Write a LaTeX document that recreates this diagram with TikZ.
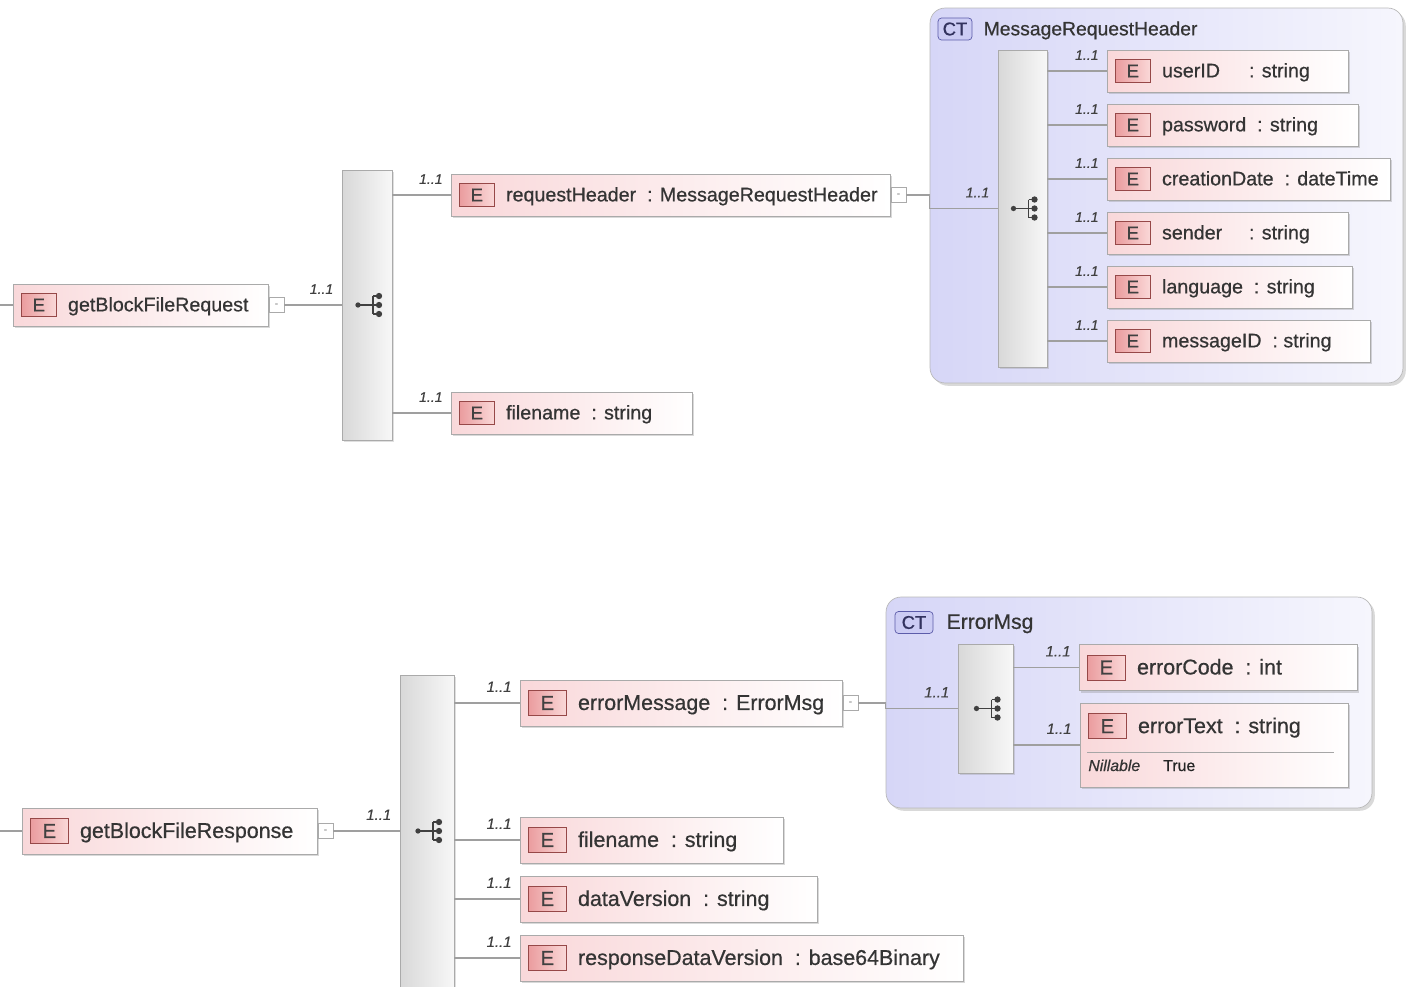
\documentclass[tikz,border=0pt]{standalone}
\usepackage{fontspec}
\setmainfont{Liberation Sans}[FakeBold=0.6]
\usetikzlibrary{calc, shadows}

\definecolor{elempink}{RGB}{249,216,218}
\definecolor{elemline}{RGB}{170,170,170}
\definecolor{tagred}{RGB}{234,156,158}
\definecolor{taglight}{RGB}{250,216,216}
\definecolor{tagline}{RGB}{150,72,72}
\definecolor{ctblue}{RGB}{214,214,247}
\definecolor{ctlight}{RGB}{246,246,253}
\definecolor{cttagfill}{RGB}{204,204,244}
\definecolor{cttagline}{RGB}{92,92,170}
\definecolor{seqgray}{RGB}{216,216,216}
\definecolor{textgray}{RGB}{52,52,52}

\begin{document}
\begin{tikzpicture}[
    x=0.02cm, y=-0.02cm,
    % Styles des boites d'elements
    elem/.style={anchor=west, draw=elemline, left color=elempink, right color=white,
        minimum height=0.84cm, inner sep=0,
        drop shadow={shadow xshift=1.2pt, shadow yshift=-1.2pt, opacity=0.3}},
    etag/.style={anchor=west, draw=tagline, left color=tagred, right color=taglight,
        minimum width=0.7cm, minimum height=0.46cm, inner sep=0,
        font=\fontsize{10.5}{12}\selectfont, text=black!75},
    elemtext/.style={anchor=base west, inner sep=0, font=\fontsize{11.2}{13}\selectfont, text=textgray},
    minusbox/.style={anchor=west, draw=elemline, fill=white, minimum size=0.3cm, inner sep=0,
        font=\tiny, text=gray},
    % Sequences and complex types
    seqbar/.style={draw=elemline, left color=seqgray, right color=gray!6, inner sep=0,
        drop shadow={shadow xshift=1.2pt, shadow yshift=-1.2pt, opacity=0.25}},
    ctbox/.style={draw=gray!55, left color=ctblue, right color=ctlight, rounded corners=0.3cm,
        inner sep=0, drop shadow={shadow xshift=1.6pt, shadow yshift=-1.6pt, opacity=0.3}},
    cttag/.style={draw=cttagline, fill=cttagfill, rounded corners=2pt, minimum width=0.68cm,
        minimum height=0.44cm, inner sep=0, font=\fontsize{10.5}{12}\selectfont, text=cttagline!55!black},
    cttext/.style={anchor=base west, inner sep=0, font=\fontsize{11}{13}\selectfont, text=textgray},
    % Lines and labels
    conn/.style={draw=gray!75, line width=0.6pt},
    card/.style={anchor=south east, inner xsep=4.5pt, inner ysep=6pt,
        font=\fontsize{8}{9}\selectfont\itshape, text=black!75},
    icon/.style={black!75, line width=0.8pt}
]

    \useasboundingbox (0,0) rectangle (1414,987);
    \clip (0,0) rectangle (1414,987);

    %% Element box: name, left point, width (px), text
    \def\xsdelem#1#2#3#4{
        \node[elem, minimum width=#3*0.02cm] (#1) at (#2) {};
        \node[etag] (#1-tag) at ($(#1.west)+(8,0)$) {E};
        \node[elemtext] (#1-txt) at ($(#1-tag.base east)+(11,0)$) {#4};
    }

    %% Sequence icon at a point
    \def\seqicon#1{
        \begin{scope}[shift={(#1)}]
            \draw[icon] (-9,0) -- (6,0) (6,-9) -- (6,9) (6,-9) -- (12,-9) (6,0) -- (12,0) (6,9) -- (12,9);
            \fill[icon] (-9,0) circle (1.5pt) (12,-9) circle (1.8pt) (12,0) circle (1.8pt) (12,9) circle (1.8pt);
        \end{scope}
    }


    % Request

    %% Complex type MessageRequestHeader
    \node[ctbox, minimum width=9.46cm, minimum height=7.5cm] (mrh) at (1166.5,195.5) {};
    \node[cttag] (mrh-ct) at (955,29) {CT};
    \node[cttext] (mrh-name) at ($(mrh-ct.base east)+(11,0)$) {MessageRequestHeader};

    %% Sequences
    \node[seqbar, minimum width=1cm, minimum height=5.4cm] (seq1) at (367,305) {};
    \node[seqbar, minimum width=0.98cm, minimum height=6.34cm] (seq2) at (1022.5,208.5) {};

    %% Elements
    \coordinate (req-in) at (0,305);
    \xsdelem{gbfr}{13,305}{255}{getBlockFileRequest}
    \node[minusbox] (gbfr-col) at (gbfr.east) {-};
    \xsdelem{rh}{451,195}{439}{requestHeader\ \ : MessageRequestHeader}
    \node[minusbox] (rh-col) at (rh.east) {-};
    \xsdelem{fn1}{451,413}{241}{filename\ \ : string}

    \xsdelem{userid}{1107,71}{241}{\makebox[1.74cm][l]{userID}: string}
    \xsdelem{password}{1107,125}{251}{password\ \ : string}
    \xsdelem{creation}{1107,179}{283}{creationDate\ \ : dateTime}
    \xsdelem{sender}{1107,233}{241}{\makebox[1.74cm][l]{sender}: string}
    \xsdelem{language}{1107,287}{245}{language\ \ : string}
    \xsdelem{messageid}{1107,341}{263}{messageID\ \ : string}

    %% Connectors
    \draw[conn] (req-in) -- (gbfr.west);
    \draw[conn] (gbfr-col.east) -- (seq1.west) node[card] {1..1};
    \draw[conn] (seq1.east |- rh.west) -- (rh.west) node[card] {1..1};
    \draw[conn] (seq1.east |- fn1.west) -- (fn1.west) node[card] {1..1};
    \draw[conn] (rh-col.east) -- (mrh.west |- rh-col.east) |- (seq2.west) node[card] {1..1};
    \draw[conn] (seq2.east |- userid.west) -- (userid.west) node[card] {1..1};
    \draw[conn] (seq2.east |- password.west) -- (password.west) node[card] {1..1};
    \draw[conn] (seq2.east |- creation.west) -- (creation.west) node[card] {1..1};
    \draw[conn] (seq2.east |- sender.west) -- (sender.west) node[card] {1..1};
    \draw[conn] (seq2.east |- language.west) -- (language.west) node[card] {1..1};
    \draw[conn] (seq2.east |- messageid.west) -- (messageid.west) node[card] {1..1};

    \seqicon{seq1.center |- gbfr-col.east}
    \seqicon{seq2.center}


    % Response

    \begin{scope}[
        etag/.append style={minimum width=0.76cm, minimum height=0.5cm, font=\fontsize{11.5}{13}\selectfont},
        elemtext/.append style={font=\fontsize{12.2}{14}\selectfont},
        cttext/.append style={font=\fontsize{12}{14}\selectfont},
        elem/.append style={minimum height=0.92cm},
        card/.append style={font=\fontsize{8.5}{9}\selectfont\itshape}
    ]

    %% Complex type ErrorMsg
    \node[ctbox, minimum width=9.72cm, minimum height=4.22cm] (em) at (1129,702.5) {};
    \node[cttag, minimum width=0.76cm] (em-ct) at (914,622.5) {CT};
    \node[cttext] (em-name) at ($(em-ct.base east)+(13,0)$) {ErrorMsg};

    %% Sequences
    \node[seqbar, minimum width=1.08cm, minimum height=6.6cm] (seq3) at (427,840) {};
    \node[seqbar, minimum width=1.1cm, minimum height=2.58cm] (seq4) at (985.5,708.5) {};

    %% Elements
    \coordinate (resp-in) at (0,831);
    \xsdelem{gbfs}{22,831}{295}{getBlockFileResponse}
    \node[minusbox] (gbfs-col) at (gbfs.east) {-};
    \xsdelem{errmsg}{520,703}{322}{errorMessage\ \ : ErrorMsg}
    \node[minusbox] (errmsg-col) at (errmsg.east) {-};
    \xsdelem{fn2}{520,840}{263}{filename\ \ : string}
    \xsdelem{dataver}{520,899}{297}{dataVersion\ \ : string}
    \xsdelem{respdv}{520,958}{443}{responseDataVersion\ \ : base64Binary}

    \xsdelem{errcode}{1079,667.5}{278}{errorCode\ \ : int}

    %% errorText with its nillable row
    \node[elem, minimum width=268*0.02cm, minimum height=1.68cm] (errtext) at (1080,745) {};
    \node[etag] (errtext-tag) at ($(errtext.north west)+(8,23.5)$) {E};
    \node[elemtext] (errtext-txt) at ($(errtext-tag.base east)+(11,0)$) {errorText\ \ : string};
    \draw[gray!70] ($(errtext.west)+(7,7)$) -- ($(errtext.east)+(-15,7)$);
    \node[elemtext, font=\fontsize{9}{10}\selectfont\itshape] (errtext-nil) at (1088,771) {Nillable};
    \node[elemtext, font=\fontsize{9}{10}\selectfont, text=black!85] (errtext-true) at (1163,771) {True};

    %% Connectors
    \draw[conn] (resp-in) -- (gbfs.west);
    \draw[conn] (gbfs-col.east) -- (seq3.west |- gbfs-col.east) node[card] {1..1};
    \draw[conn] (seq3.east |- errmsg.west) -- (errmsg.west) node[card] {1..1};
    \draw[conn] (seq3.east |- fn2.west) -- (fn2.west) node[card] {1..1};
    \draw[conn] (seq3.east |- dataver.west) -- (dataver.west) node[card] {1..1};
    \draw[conn] (seq3.east |- respdv.west) -- (respdv.west) node[card] {1..1};
    \draw[conn] (errmsg-col.east) -- (em.west |- errmsg-col.east) |- (seq4.west) node[card] {1..1};
    \draw[conn] (seq4.east |- errcode.west) -- (errcode.west) node[card] {1..1};
    \draw[conn] (seq4.east |- errtext.west) -- (errtext.west) node[card] {1..1};

    \seqicon{seq3.center |- gbfs-col.east}
    \seqicon{seq4.center}

    \end{scope}

\end{tikzpicture}
\end{document}
